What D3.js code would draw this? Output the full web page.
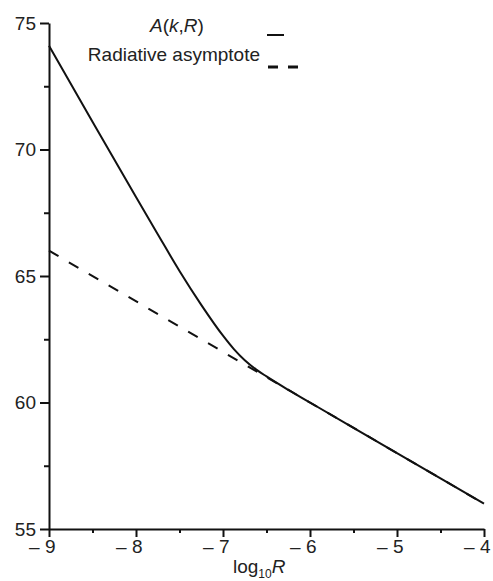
<!DOCTYPE html>
<html>
<head>
<meta charset="utf-8">
<script src="https://cdn.jsdelivr.net/npm/d3@7/dist/d3.min.js"></script>
<style>
  body { margin: 0; background: #fff; }
  svg text { font-family: "Liberation Sans", Arial, sans-serif; fill: #222; }
</style>
</head>
<body>
<svg id="chart" width="493" height="581"></svg>
<script>
// values
const logR = [-9, -8.5, -8, -7.75, -7.5, -7.25, -7, -6.875, -6.75, -6.625, -6.5, -6.25, -6, -5, -4];
const amp = [74.1, 71.1, 68.12, 66.65, 65.2, 63.86, 62.64, 62.11, 61.67, 61.32, 61.03, 60.5, 60, 58, 56];
const asymR = [-9, -4];
const asymA = [66, 56];
const xTicks = [-9, -8, -7, -6, -5, -4];
const xMinor = [-8.5, -7.5, -6.5, -5.5, -4.5];
const yTicks = [55, 60, 65, 70, 75];
const yMinor = [57.5, 62.5, 67.5, 72.5];

const margin = {top: 23, right: 9, bottom: 52, left: 49};
const svg = d3.select("#chart");
const W = +svg.attr("width"), H = +svg.attr("height");

const x = d3.scaleLinear().domain([-9, -4]).range([margin.left, W - margin.right]);
const y = d3.scaleLinear().domain([55, 75]).range([H - margin.bottom, margin.top]);

// minor ticks first, major axes on top
svg.append("g")
  .attr("transform", `translate(0,${y(55)})`)
  .call(d3.axisBottom(x).tickValues(xMinor).tickSize(4).tickFormat(""))
  .call(g => g.select(".domain").remove())
  .selectAll("line").attr("stroke", "#111").attr("stroke-width", 2);

svg.append("g")
  .attr("transform", `translate(${x(-9)},0)`)
  .call(d3.axisLeft(y).tickValues(yMinor).tickSize(5).tickFormat(""))
  .call(g => g.select(".domain").remove())
  .selectAll("line").attr("stroke", "#111").attr("stroke-width", 2);

const xAxis = svg.append("g")
  .attr("transform", `translate(0,${y(55)})`)
  .call(d3.axisBottom(x).tickValues(xTicks).tickSize(8).tickSizeOuter(0)
    .tickFormat(d => "\u2013 " + Math.abs(d)));
xAxis.select(".domain").attr("stroke", "#111").attr("stroke-width", 2);
xAxis.selectAll("line").attr("stroke", "#111").attr("stroke-width", 2);
xAxis.selectAll("text")
  .attr("font-size", 19)
  .attr("text-anchor", "end")
  .attr("dx", 6)
  .attr("y", 11)
  .attr("dy", "0.71em");

const yAxis = svg.append("g")
  .attr("transform", `translate(${x(-9)},0)`)
  .call(d3.axisLeft(y).tickValues(yTicks).tickSize(9).tickSizeOuter(0));
yAxis.select(".domain").attr("stroke", "#111").attr("stroke-width", 2);
yAxis.selectAll("line").attr("stroke", "#111").attr("stroke-width", 2);
yAxis.selectAll("text").attr("font-size", 19).attr("x", -13);

// asymptote (dashed) and full curve
const asym = asymR.map((r, i) => [r, asymA[i]]);
svg.append("path")
  .datum(asym)
  .attr("fill", "none")
  .attr("stroke", "#111")
  .attr("stroke-width", 2)
  .attr("stroke-dasharray", "11,12")
  .attr("d", d3.line().x(d => x(d[0])).y(d => y(d[1])));

const pts = logR.map((r, i) => [r, amp[i]]);
svg.append("path")
  .datum(pts)
  .attr("fill", "none")
  .attr("stroke", "#111")
  .attr("stroke-width", 2)
  .attr("d", d3.line().curve(d3.curveMonotoneX).x(d => x(d[0])).y(d => y(d[1])));

// legend
const lg = svg.append("g").attr("font-size", 19);
const t1 = lg.append("text").attr("x", 150).attr("y", 32);
t1.append("tspan").attr("font-style", "italic").text("A");
t1.append("tspan").text("(");
t1.append("tspan").attr("font-style", "italic").text("k");
t1.append("tspan").text(",");
t1.append("tspan").attr("font-style", "italic").text("R");
t1.append("tspan").text(")");
lg.append("line").attr("x1", 267).attr("x2", 284).attr("y1", 35).attr("y2", 35)
  .attr("stroke", "#111").attr("stroke-width", 2);

lg.append("text").attr("x", 260).attr("y", 61).attr("text-anchor", "end")
  .text("Radiative asymptote");
lg.append("line").attr("x1", 268).attr("x2", 298).attr("y1", 67).attr("y2", 67)
  .attr("stroke", "#111").attr("stroke-width", 3).attr("stroke-dasharray", "10,10");

// x label
const xl = svg.append("text").attr("x", 233).attr("y", 573).attr("font-size", 19);
xl.append("tspan").text("log");
xl.append("tspan").attr("font-size", 12).attr("dy", 5).text("10");
xl.append("tspan").attr("font-style", "italic").attr("dy", -5).text("R");
</script>
</body>
</html>
